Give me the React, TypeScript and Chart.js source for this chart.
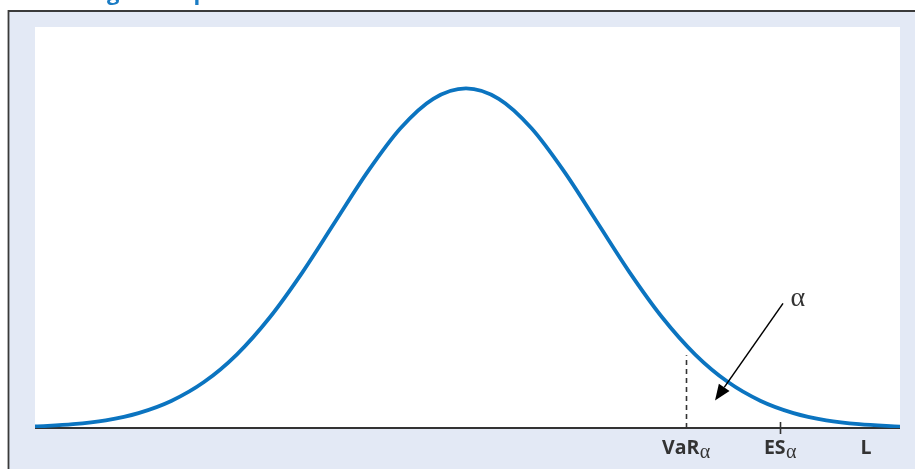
import React, { useEffect, useRef } from 'react';
import { Chart, registerables } from 'chart.js';

Chart.register(...registerables);

// Loss value in units of standard deviation (x) and relative density (y)
const lossValues = [
  -3.29, -3.0, -2.75, -2.5, -2.25, -2.0, -1.75, -1.5, -1.25, -1.0, -0.75, -0.5, -0.25, 0,
  0.25, 0.5, 0.75, 1.0, 1.25, 1.5, 1.75, 2.0, 2.25, 2.5, 2.75, 3.0, 3.313,
];
const densityValues = [
  0.0045, 0.0111, 0.0228, 0.0439, 0.0796, 0.1353, 0.2163, 0.3247, 0.4578, 0.6065, 0.7548, 0.8825, 0.9692, 1.0,
  0.9692, 0.8825, 0.7548, 0.6065, 0.4578, 0.3247, 0.2163, 0.1353, 0.0796, 0.0439, 0.0228, 0.0111, 0.0041,
];

const xMin = -3.29;
const xMax = 3.313;
const yMax = 1.181;

// Axis marks
const tickValues = [1.679, 2.397, 3.053];
const tickMain = ['VaR', 'ES', 'L'];
const tickSub = ['α', 'α', ''];

const varValue = 1.679;
const varLineTop = 0.214;
const esValue = 2.397;

// Arrow annotation (data coordinates)
const arrowFrom = [2.42, 0.367];
const arrowTo = [1.901, 0.081];
const alphaLabelPos = [2.534, 0.358];
const alphaLabel = 'α';

const titleText = 'Measuring the expected loss';

const BLUE = '#0b74c0';
const FRAME_BG = '#e3e9f5';
const DARK = '#333333';

const decorPlugin = {
  id: 'decor',
  beforeDraw(chart: any) {
    const { ctx, chartArea } = chart;
    ctx.save();
    ctx.fillStyle = '#ffffff';
    ctx.fillRect(0, 0, chart.width, chart.height);
    // title (mostly cut off)
    ctx.font = 'bold 22px "Open Sans", sans-serif';
    ctx.fillStyle = '#1a7cc4';
    ctx.textBaseline = 'alphabetic';
    const pre = ctx.measureText('Measurin').width;
    ctx.fillText(titleText, 107 - pre, 0);
    // frame
    ctx.fillStyle = FRAME_BG;
    ctx.fillRect(9, 12, chart.width - 9, chart.height - 12);
    ctx.strokeStyle = '#3a3a3a';
    ctx.lineWidth = 1.8;
    ctx.beginPath();
    ctx.moveTo(8.5, chart.height);
    ctx.lineTo(8.5, 11);
    ctx.lineTo(chart.width, 11);
    ctx.stroke();
    // plot area
    ctx.fillStyle = '#ffffff';
    ctx.fillRect(chartArea.left, chartArea.top, chartArea.right - chartArea.left, chartArea.bottom - chartArea.top);
    ctx.restore();
  },
  beforeDatasetsDraw(chart: any) {
    const { ctx, chartArea, scales } = chart;
    const xs = scales.x;
    const ys = scales.y;
    ctx.save();
    // axis line
    ctx.strokeStyle = DARK;
    ctx.lineWidth = 2;
    ctx.beginPath();
    ctx.moveTo(chartArea.left, chartArea.bottom);
    ctx.lineTo(chartArea.right, chartArea.bottom);
    ctx.stroke();
    // VaR dashed line
    const vx = Math.round(xs.getPixelForValue(varValue)) + 0.5;
    ctx.lineWidth = 1.6;
    ctx.setLineDash([5, 4]);
    ctx.beginPath();
    ctx.moveTo(vx, chartArea.bottom);
    ctx.lineTo(vx, ys.getPixelForValue(varLineTop));
    ctx.stroke();
    ctx.setLineDash([]);
    // ES tick
    const ex = Math.round(xs.getPixelForValue(esValue)) + 0.5;
    ctx.beginPath();
    ctx.moveTo(ex, chartArea.bottom - 6);
    ctx.lineTo(ex, chartArea.bottom + 6);
    ctx.stroke();
    // tick labels
    ctx.fillStyle = DARK;
    ctx.textBaseline = 'alphabetic';
    const mainFont = 'bold 19.5px "Open Sans", sans-serif';
    const subFont = '20px "Liberation Serif", serif';
    for (let i = 0; i < tickValues.length; i++) {
      const px = xs.getPixelForValue(tickValues[i]);
      ctx.font = mainFont;
      const w1 = ctx.measureText(tickMain[i]).width;
      ctx.font = subFont;
      const w2 = tickSub[i] ? ctx.measureText(tickSub[i]).width : 0;
      const start = px - (w1 + w2) / 2;
      ctx.font = mainFont;
      ctx.fillText(tickMain[i], start, 454);
      if (tickSub[i]) {
        ctx.font = subFont;
        ctx.fillText(tickSub[i], start + w1 + 0.5, 458);
      }
    }
    ctx.restore();
  },
  afterDatasetsDraw(chart: any) {
    const { ctx, scales } = chart;
    const xs = scales.x;
    const ys = scales.y;
    const x1 = xs.getPixelForValue(arrowFrom[0]);
    const y1 = ys.getPixelForValue(arrowFrom[1]);
    const x2 = xs.getPixelForValue(arrowTo[0]);
    const y2 = ys.getPixelForValue(arrowTo[1]);
    const ang = Math.atan2(y2 - y1, x2 - x1);
    const headLen = 16;
    const headHalf = 6.5;
    ctx.save();
    ctx.strokeStyle = '#000';
    ctx.fillStyle = '#000';
    ctx.lineWidth = 1.5;
    const bx = x2 - headLen * Math.cos(ang);
    const by = y2 - headLen * Math.sin(ang);
    ctx.beginPath();
    ctx.moveTo(x1, y1);
    ctx.lineTo(bx, by);
    ctx.stroke();
    ctx.beginPath();
    ctx.moveTo(x2, y2);
    ctx.lineTo(bx + headHalf * Math.sin(ang), by - headHalf * Math.cos(ang));
    ctx.lineTo(bx - headHalf * Math.sin(ang), by + headHalf * Math.cos(ang));
    ctx.closePath();
    ctx.fill();
    // alpha label
    ctx.fillStyle = DARK;
    ctx.font = '28px "Liberation Serif", serif';
    ctx.textAlign = 'center';
    ctx.textBaseline = 'alphabetic';
    ctx.fillText(alphaLabel, xs.getPixelForValue(alphaLabelPos[0]), ys.getPixelForValue(alphaLabelPos[1]));
    ctx.restore();
  },
};

export default function App() {
  const ref = useRef<HTMLCanvasElement | null>(null);
  useEffect(() => {
    if (!ref.current) return;
    const chart = new Chart(ref.current, {
      type: 'line',
      data: {
        datasets: [
          {
            data: lossValues.map((x, i) => ({ x, y: densityValues[i] })),
            borderColor: BLUE,
            borderWidth: 3.8,
            borderCapStyle: 'round',
            borderJoinStyle: 'round',
            pointRadius: 0,
            cubicInterpolationMode: 'monotone',
            fill: false,
          },
        ],
      },
      options: {
        responsive: false,
        animation: false,
        layout: { padding: { left: 35, right: 15, top: 27, bottom: 41 } },
        plugins: { legend: { display: false }, tooltip: { enabled: false }, title: { display: false } },
        scales: {
          x: { type: 'linear', min: xMin, max: xMax, display: false },
          y: { type: 'linear', min: 0, max: yMax, display: false },
        },
        events: [],
      },
      plugins: [decorPlugin],
    });
    return () => chart.destroy();
  }, []);
  return (
    <canvas
      ref={ref}
      width={915}
      height={469}
      style={{ position: 'absolute', left: 0, top: 0, display: 'block', width: 915, height: 469 }}
    />
  );
}
